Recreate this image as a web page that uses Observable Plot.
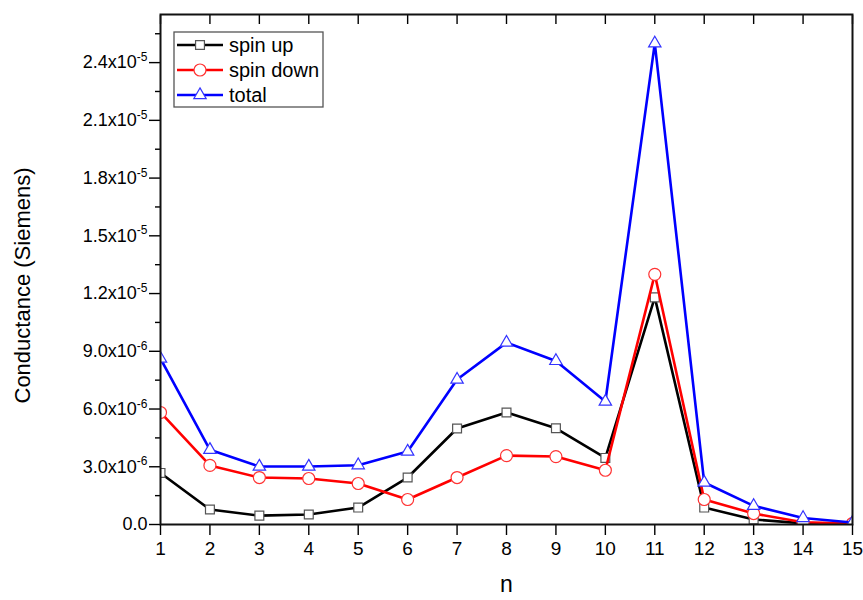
<!DOCTYPE html>
<html><head><meta charset="utf-8">
<script src="https://cdn.jsdelivr.net/npm/d3@7"></script>
<script src="https://cdn.jsdelivr.net/npm/@observablehq/plot@0.6"></script>
<style>
body{margin:0;background:#fff;}
#chart{position:relative;width:863px;height:600px;font-family:"Liberation Sans",Arial,sans-serif;}
#chart svg{position:absolute;left:0;top:0;}
</style></head><body><div id="chart"></div>
<script>
// ---- data ----
const n = [1,2,3,4,5,6,7,8,9,10,11,12,13,14,15];
const spinUp   = [2.68e-6, 0.78e-6, 0.46e-6, 0.52e-6, 0.88e-6, 2.44e-6, 4.99e-6, 5.82e-6, 5.0e-6, 3.46e-6, 1.18e-5, 0.88e-6, 0.26e-6, 0.06e-6, 0.02e-6];
const spinDown = [5.82e-6, 3.07e-6, 2.44e-6, 2.39e-6, 2.13e-6, 1.3e-6, 2.44e-6, 3.58e-6, 3.53e-6, 2.82e-6, 1.3e-5, 1.3e-6, 0.57e-6, 0.12e-6, 0.05e-6];
const total    = [8.62e-6, 3.88e-6, 3.01e-6, 3.01e-6, 3.08e-6, 3.79e-6, 7.53e-6, 9.45e-6, 8.5e-6, 6.39e-6, 2.5e-5, 2.18e-6, 0.97e-6, 0.34e-6, 0.1e-6];
const seriesNames = ["spin up", "spin down", "total"];
const seriesColors = ["#000000", "#ff0000", "#0000ff"];
const markerStroke = ["#555555", "#ff3333", "#3333ff"];
const seriesSymbols = ["square", "circle", "triangle"];
const markerR = [5, 6, 4.6];
const yTicks = [0, 3e-6, 6e-6, 9e-6, 1.2e-5, 1.5e-5, 1.8e-5, 2.1e-5, 2.4e-5];
const yMinorTicks = [1.5e-6, 4.5e-6, 7.5e-6, 1.05e-5, 1.35e-5, 1.65e-5, 1.95e-5, 2.25e-5, 2.55e-5];
const yMax = 2.65e-5;
const xTitle = "n";
const yTitle = "Conductance (Siemens)";

const seriesValues = [spinUp, spinDown, total];
const tables = seriesValues.map(vals => n.map((x, i) => ({n: x, v: vals[i]})));

function fmt(d) {
  if (d === 0) return "0.0";
  const e = Math.floor(Math.log10(d) + 1e-9);
  const m = d / Math.pow(10, e);
  return m.toFixed(1) + "x10^" + e;
}

const font = '"Liberation Sans", Arial, sans-serif';
const seriesMarks = [];
tables.forEach((t, i) => {
  seriesMarks.push(Plot.line(t, {x: "n", y: "v", stroke: seriesColors[i], strokeWidth: 2.6, clip: "frame"}));
  seriesMarks.push(Plot.dot(t, {x: "n", y: "v", symbol: seriesSymbols[i], r: markerR[i], fill: "white", stroke: markerStroke[i], strokeWidth: 1.2, clip: "frame"}));
});

const plot = Plot.plot({
  width: 863, height: 600,
  marginLeft: 160, marginRight: 11, marginTop: 14, marginBottom: 76,
  style: {fontFamily: font, background: "transparent", color: "#000", overflow: "visible"},
  x: {domain: [1, 15]},
  y: {domain: [0, yMax]},
  marks: [
    Plot.axisX(n, {tickSize: 11, tickPadding: 6, fontSize: 19, label: null, tickFormat: d => String(d), strokeWidth: 1.4}),
    Plot.axisX(n, {anchor: "top", tickSize: 9, dy: 9, tickFormat: () => "", label: null, strokeWidth: 1.4}),
    Plot.axisY(yTicks, {tickSize: 11, tickPadding: 2, fontSize: 18, tickFormat: fmt, label: null, strokeWidth: 1.4}),
    Plot.axisY(yMinorTicks, {tickSize: 5, tickFormat: () => "", label: null, strokeWidth: 1.4}),
    ...seriesMarks,
    Plot.frame({stroke: "#111", strokeWidth: 2}),
    Plot.text([xTitle], {frameAnchor: "bottom", dy: 67, fontSize: 23}),
    Plot.text([yTitle], {frameAnchor: "left", dx: -138, dy: 16, rotate: -90, textAnchor: "middle", fontSize: 22})
  ]
});

// superscript exponents on y tick labels
d3.select(plot).selectAll('g[aria-label="y-axis tick label"] text').each(function() {
  const s = this.textContent;
  if (!s.includes("^")) return;
  const [a, b] = s.split("^");
  const t = d3.select(this);
  t.text(null);
  t.append("tspan").text(a);
  t.append("tspan").attr("dy", "-0.6em").attr("font-size", "12px").text(b);
});

const chart = document.getElementById("chart");
chart.appendChild(plot);

// legend overlay
const lg = d3.select(chart).append("svg").attr("width", 863).attr("height", 600).style("pointer-events", "none");
lg.append("rect").attr("x", 174).attr("y", 32).attr("width", 149).attr("height", 75)
  .attr("fill", "white").attr("stroke", "#555").attr("stroke-width", 1.3);
const symMap = {square: d3.symbolSquare, circle: d3.symbolCircle, triangle: d3.symbolTriangle};
seriesNames.forEach((name, i) => {
  const y = 45 + i * 25;
  lg.append("line").attr("x1", 177).attr("x2", 223).attr("y1", y).attr("y2", y)
    .attr("stroke", seriesColors[i]).attr("stroke-width", 2.6);
  lg.append("path").attr("transform", `translate(200,${y})`)
    .attr("d", d3.symbol(symMap[seriesSymbols[i]], Math.PI * markerR[i] * markerR[i])())
    .attr("fill", "white").attr("stroke", markerStroke[i]).attr("stroke-width", 1.2);
  lg.append("text").attr("x", 229).attr("y", y).attr("dy", "0.35em")
    .attr("font-family", font).attr("font-size", 20).text(name);
});
</script>
</body></html>
